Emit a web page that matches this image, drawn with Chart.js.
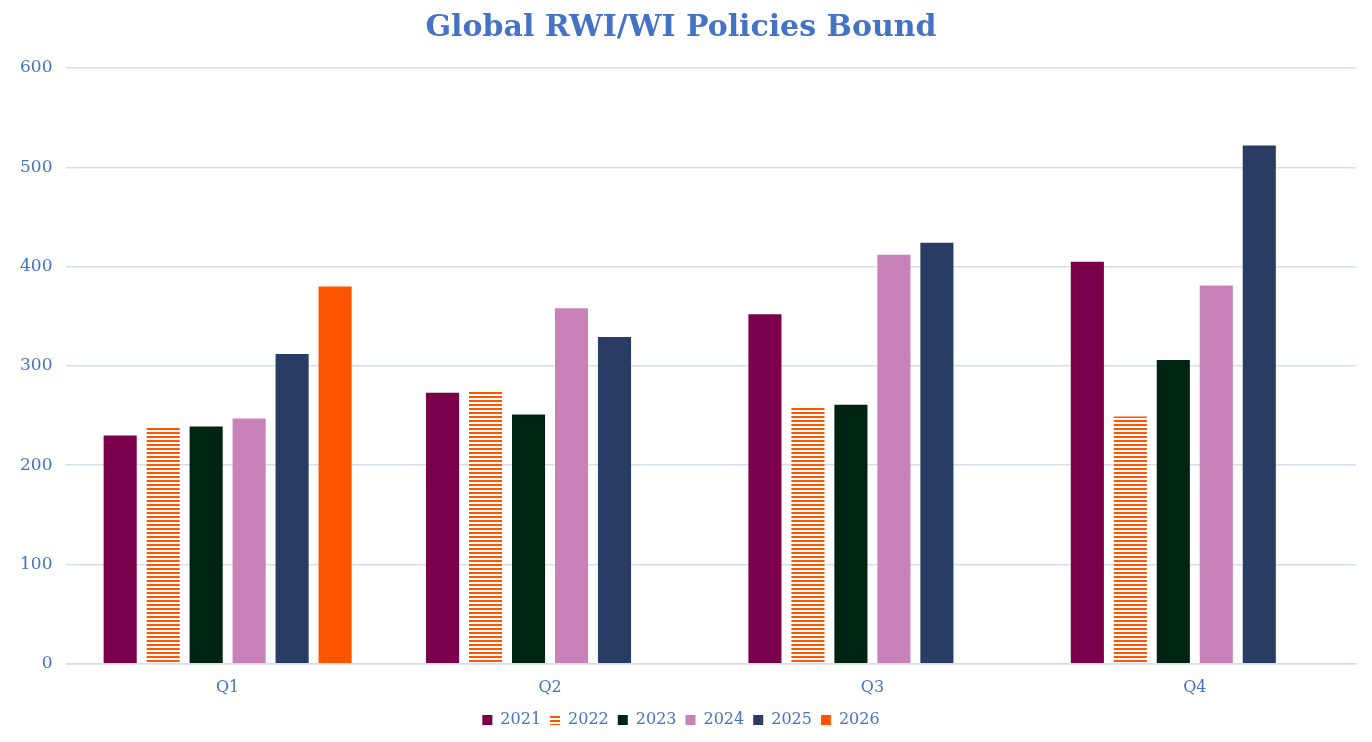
<!DOCTYPE html>
<html>
<head>
<meta charset="utf-8">
<script src="https://cdn.jsdelivr.net/npm/chart.js@4/dist/chart.umd.min.js"></script>
<style>
  html, body { margin: 0; padding: 0; background: #fff; }
  #wrap { width: 1372px; height: 742px; }
</style>
</head>
<body>
<div id="wrap"><canvas id="policies-chart"></canvas></div>
<script>
// Bound policies per quarter, one array per year
const quarters = ['Q1', 'Q2', 'Q3', 'Q4'];
const years = ['2021', '2022', '2023', '2024', '2025', '2026'];
const bound2021 = [230, 273, 352, 405];
const bound2022 = [239, 274, 259, 249];
const bound2023 = [239, 251, 261, 306];
const bound2024 = [247, 358, 412, 381];
const bound2025 = [312, 329, 424, 522];
const bound2026 = [380, null, null, null];
const yTicks = [0, 100, 200, 300, 400, 500, 600];

const blue = '#4472C4';
const serif = "'DejaVu Serif', 'Liberation Serif', serif";

// stripes for 2022: orange lines on white
function stripePattern(color) {
    const c = document.createElement('canvas');
    c.width = 4;
    c.height = 4;
    const g = c.getContext('2d');
    g.fillStyle = '#ffffff';
    g.fillRect(0, 0, 4, 4);
    g.fillStyle = color;
    g.fillRect(0, 0, 4, 2);
    return g.createPattern(c, 'repeat');
}

function createPoliciesChart(targetID) {
    const ctx = document.getElementById(targetID).getContext('2d');
    const colors = ['#7A004B', stripePattern('#FF5500'), '#002412', '#C882B8', '#283C64', '#FF5500'];
    const series = [bound2021, bound2022, bound2023, bound2024, bound2025, bound2026];
    return new Chart(ctx, {
        type: 'bar',
        data: {
            labels: quarters,
            datasets: series.map((data, i) => ({
                label: years[i],
                data: data,
                backgroundColor: colors[i],
                borderWidth: 0,
                barPercentage: 0.77,
                categoryPercentage: 0.8
            }))
        },
        options: {
            responsive: true,
            maintainAspectRatio: false,
            animation: false,
            layout: { padding: { left: 6, right: 16, top: 2, bottom: 4 } },
            plugins: {
                title: {
                    display: true,
                    text: 'Global RWI/WI Policies Bound',
                    color: blue,
                    font: { family: serif, size: 30, weight: 'bold' },
                    padding: { top: 8, bottom: 22 }
                },
                legend: {
                    position: 'bottom',
                    labels: {
                        color: blue,
                        font: { family: serif, size: 16 },
                        boxWidth: 10,
                        boxHeight: 10,
                        padding: 9
                    }
                },
                tooltip: { enabled: false }
            },
            scales: {
                x: {
                    grid: { display: false },
                    border: { color: '#D6DEEE', width: 1.5 },
                    ticks: { color: blue, font: { family: serif, size: 16 }, padding: 6 }
                },
                y: {
                    min: 0,
                    max: 600,
                    afterBuildTicks: axis => { axis.ticks = yTicks.map(v => ({ value: v })); },
                    grid: { color: '#D6DEEE', lineWidth: 1.5, drawTicks: false },
                    border: { display: false },
                    ticks: { color: blue, font: { family: serif, size: 17 }, padding: 14 }
                }
            }
        }
    });
}

createPoliciesChart('policies-chart');
</script>
</body>
</html>
